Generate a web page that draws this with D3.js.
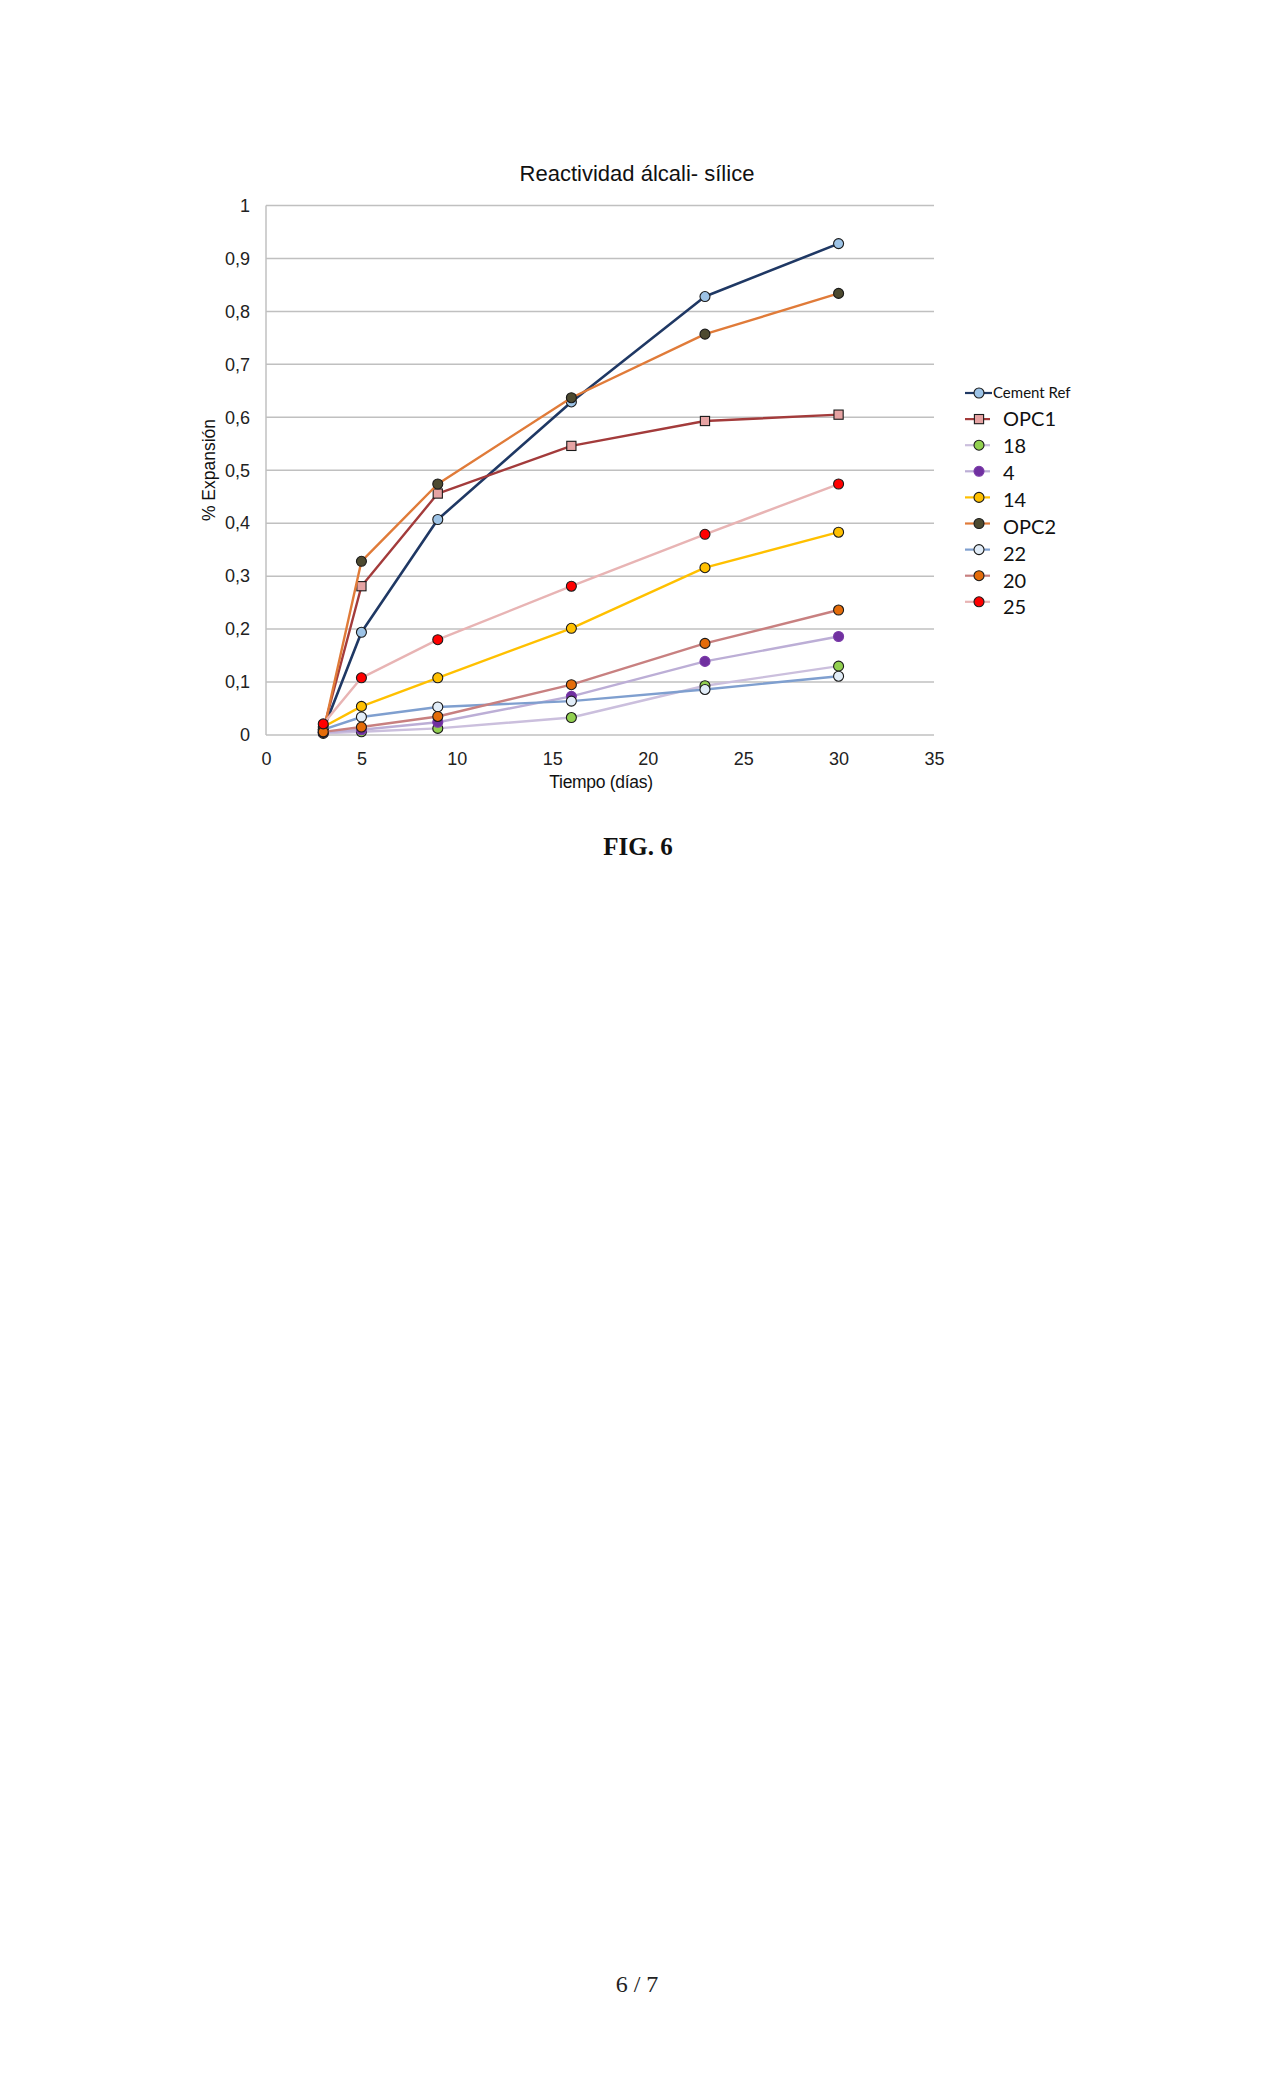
<!DOCTYPE html>
<html>
<head>
<meta charset="utf-8">
<script src="https://cdn.jsdelivr.net/npm/d3@7"></script>
<style>
  body { margin: 0; background: #fff; }
  svg { display: block; }
</style>
</head>
<body>
<div id="chart"></div>
<script>
// Chart data
const days = [3, 5, 9, 16, 23, 30];
const seriesNames = ["Cement Ref", "OPC1", "18", "4", "14", "OPC2", "22", "20", "25"];
const cementRef = [0.010, 0.194, 0.407, 0.629, 0.828, 0.928];
const opc1 = [0.010, 0.281, 0.456, 0.546, 0.593, 0.605];
const s18 = [0.003, 0.006, 0.0125, 0.033, 0.093, 0.130];
const s4 = [0.005, 0.010, 0.024, 0.073, 0.139, 0.186];
const s14 = [0.015, 0.054, 0.108, 0.2015, 0.316, 0.383];
const opc2 = [0.005, 0.328, 0.474, 0.637, 0.757, 0.834];
const s22 = [0.010, 0.034, 0.053, 0.064, 0.086, 0.111];
const s20 = [0.006, 0.015, 0.035, 0.095, 0.173, 0.236];
const s25 = [0.021, 0.108, 0.180, 0.281, 0.379, 0.474];
const xTicks = [0, 5, 10, 15, 20, 25, 30, 35];
const yTicks = [0, 0.1, 0.2, 0.3, 0.4, 0.5, 0.6, 0.7, 0.8, 0.9, 1];

const seriesValues = [cementRef, opc1, s18, s4, s14, opc2, s22, s20, s25];

// Styles per series: line colour, marker fill, marker stroke, shape
const styles = [
  { line: "#1f3864", fill: "#9dc3e6", stroke: "#1a1a1a", shape: "circle" },
  { line: "#a33b3b", fill: "#e6a3a3", stroke: "#1a1a1a", shape: "square" },
  { line: "#cbbfdd", fill: "#92d050", stroke: "#1a1a1a", shape: "circle" },
  { line: "#bcaed6", fill: "#7030a0", stroke: "#7a3aa8", shape: "circle" },
  { line: "#ffc000", fill: "#ffc000", stroke: "#1a1a1a", shape: "circle" },
  { line: "#e07b39", fill: "#4d4a30", stroke: "#1a1a1a", shape: "circle" },
  { line: "#7f9fcf", fill: "#e2edf8", stroke: "#1a1a1a", shape: "circle" },
  { line: "#c88080", fill: "#e46c0a", stroke: "#1a1a1a", shape: "circle" },
  { line: "#e8b4b4", fill: "#ff0000", stroke: "#1a1a1a", shape: "circle" }
];

const W = 1275, H = 2100;
const plot = { left: 266, right: 934, top: 205.5, bottom: 735 };
const tickFont = "'Liberation Sans', Arial, sans-serif";

const svg = d3.select("#chart").append("svg")
  .attr("width", W)
  .attr("height", H);

const x = d3.scaleLinear().domain([0, 35]).range([plot.left, plot.right]);
const y = d3.scaleLinear().domain([0, 1]).range([plot.bottom, plot.top]);

const esLocale = d3.formatLocale({ decimal: ",", thousands: ".", grouping: [3], currency: ["", "€"] });
const fmt = esLocale.format("~g");

// Gridlines
svg.append("g")
  .selectAll("line")
  .data(yTicks)
  .enter()
  .append("line")
  .attr("x1", plot.left)
  .attr("x2", plot.right)
  .attr("y1", d => y(d))
  .attr("y2", d => y(d))
  .attr("stroke", "#c0c0c0")
  .attr("stroke-width", 1.5);

// Left axis line
svg.append("line")
  .attr("x1", plot.left).attr("x2", plot.left)
  .attr("y1", y(1)).attr("y2", y(0))
  .attr("stroke", "#c0c0c0")
  .attr("stroke-width", 1.5);

// Axes (labels only)
const yAxis = svg.append("g")
  .attr("transform", `translate(${plot.left},0)`)
  .call(d3.axisLeft(y).tickValues(yTicks).tickFormat(fmt).tickSize(0).tickPadding(16));
const xAxis = svg.append("g")
  .attr("transform", `translate(0,${plot.bottom})`)
  .call(d3.axisBottom(x).tickValues(xTicks).tickFormat(fmt).tickSize(0).tickPadding(17));
[yAxis, xAxis].forEach(a => {
  a.select(".domain").remove();
  a.selectAll("text")
    .attr("font-family", tickFont)
    .attr("font-size", 18)
    .attr("fill", "#222");
});

// Series lines and markers
const line = d3.line()
  .x((d, i) => x(days[i]))
  .y(d => y(d));

function drawMarker(sel, st, cx, cy) {
  if (st.shape === "square") {
    sel.append("rect")
      .attr("x", cx - 4.6).attr("y", cy - 4.6)
      .attr("width", 9.2).attr("height", 9.2)
      .attr("fill", st.fill)
      .attr("stroke", st.stroke)
      .attr("stroke-width", 1.1);
  } else {
    sel.append("circle")
      .attr("cx", cx).attr("cy", cy)
      .attr("r", 5)
      .attr("fill", st.fill)
      .attr("stroke", st.stroke)
      .attr("stroke-width", 1.1);
  }
}

seriesValues.forEach((vals, si) => {
  const st = styles[si];
  const g = svg.append("g").attr("class", "series");
  g.append("path")
    .attr("d", line(vals))
    .attr("fill", "none")
    .attr("stroke", st.line)
    .attr("stroke-width", si === 0 ? 2.6 : 2.4)
    .attr("stroke-linejoin", "round");
  vals.forEach((v, i) => drawMarker(g, st, x(days[i]), y(v)));
});

// Title and axis titles
svg.append("text")
  .attr("x", 637).attr("y", 181)
  .attr("text-anchor", "middle")
  .attr("font-family", tickFont)
  .attr("font-size", 22)
  .attr("fill", "#111")
  .text("Reactividad álcali- sílice");

svg.append("text")
  .attr("transform", "translate(209,470) rotate(-90)")
  .attr("text-anchor", "middle")
  .attr("dy", "0.35em")
  .attr("font-family", tickFont)
  .attr("font-size", 17.5)
  .attr("fill", "#111")
  .text("% Expansión");

svg.append("text")
  .attr("x", 601).attr("y", 788)
  .attr("text-anchor", "middle")
  .attr("font-family", tickFont)
  .attr("font-size", 17.5)
  .attr("letter-spacing", -0.3)
  .attr("fill", "#111")
  .text("Tiempo (días)");

// Legend
const legendTop = 393, legendStep = 26.1, textStep = 26.9;
const legend = svg.append("g").attr("class", "legend");
seriesNames.forEach((name, i) => {
  const st = styles[i];
  const ly = legendTop + i * legendStep;
  legend.append("line")
    .attr("x1", 965).attr("x2", i === 0 ? 992 : 990)
    .attr("y1", ly).attr("y2", ly)
    .attr("stroke", st.line)
    .attr("stroke-width", 2.2);
  drawMarker(legend, st, 979, ly);
  legend.append("text")
    .attr("x", i === 0 ? 993 : 1003)
    .attr("y", i === 0 ? ly : 392 + i * textStep)
    .attr("dy", "0.36em")
    .attr("font-family", "Lato, 'Open Sans', sans-serif")
    .attr("font-size", i === 0 ? 15 : 20)
    .attr("fill", "#111")
    .text(name);
});

// Figure caption and page number
svg.append("text")
  .attr("x", 638).attr("y", 855)
  .attr("text-anchor", "middle")
  .attr("font-family", "'Liberation Serif', 'Times New Roman', serif")
  .attr("font-weight", "bold")
  .attr("font-size", 25)
  .attr("fill", "#111")
  .text("FIG. 6");

svg.append("text")
  .attr("x", 637).attr("y", 1992)
  .attr("text-anchor", "middle")
  .attr("font-family", "'Liberation Serif', 'Times New Roman', serif")
  .attr("font-size", 24)
  .attr("fill", "#222")
  .text("6 / 7");
</script>
</body>
</html>
